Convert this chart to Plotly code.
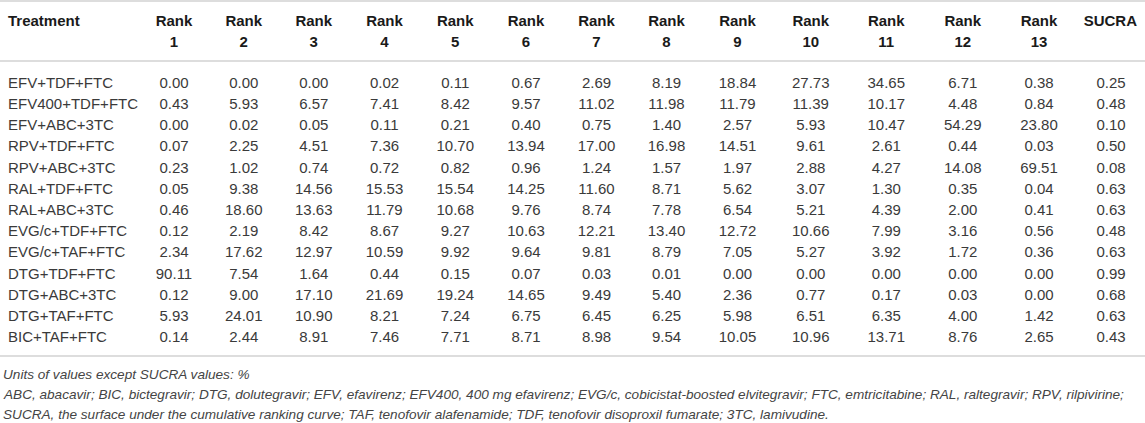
import plotly.graph_objects as go

treatments = ["EFV+TDF+FTC", "EFV400+TDF+FTC", "EFV+ABC+3TC", "RPV+TDF+FTC", "RPV+ABC+3TC",
              "RAL+TDF+FTC", "RAL+ABC+3TC", "EVG/c+TDF+FTC", "EVG/c+TAF+FTC", "DTG+TDF+FTC",
              "DTG+ABC+3TC", "DTG+TAF+FTC", "BIC+TAF+FTC"]

# probability (%) of each rank, one list per rank
rank1 = [0.00, 0.43, 0.00, 0.07, 0.23, 0.05, 0.46, 0.12, 2.34, 90.11, 0.12, 5.93, 0.14]
rank2 = [0.00, 5.93, 0.02, 2.25, 1.02, 9.38, 18.60, 2.19, 17.62, 7.54, 9.00, 24.01, 2.44]
rank3 = [0.00, 6.57, 0.05, 4.51, 0.74, 14.56, 13.63, 8.42, 12.97, 1.64, 17.10, 10.90, 8.91]
rank4 = [0.02, 7.41, 0.11, 7.36, 0.72, 15.53, 11.79, 8.67, 10.59, 0.44, 21.69, 8.21, 7.46]
rank5 = [0.11, 8.42, 0.21, 10.70, 0.82, 15.54, 10.68, 9.27, 9.92, 0.15, 19.24, 7.24, 7.71]
rank6 = [0.67, 9.57, 0.40, 13.94, 0.96, 14.25, 9.76, 10.63, 9.64, 0.07, 14.65, 6.75, 8.71]
rank7 = [2.69, 11.02, 0.75, 17.00, 1.24, 11.60, 8.74, 12.21, 9.81, 0.03, 9.49, 6.45, 8.98]
rank8 = [8.19, 11.98, 1.40, 16.98, 1.57, 8.71, 7.78, 13.40, 8.79, 0.01, 5.40, 6.25, 9.54]
rank9 = [18.84, 11.79, 2.57, 14.51, 1.97, 5.62, 6.54, 12.72, 7.05, 0.00, 2.36, 5.98, 10.05]
rank10 = [27.73, 11.39, 5.93, 9.61, 2.88, 3.07, 5.21, 10.66, 5.27, 0.00, 0.77, 6.51, 10.96]
rank11 = [34.65, 10.17, 10.47, 2.61, 4.27, 1.30, 4.39, 7.99, 3.92, 0.00, 0.17, 6.35, 13.71]
rank12 = [6.71, 4.48, 54.29, 0.44, 14.08, 0.35, 2.00, 3.16, 1.72, 0.00, 0.03, 4.00, 8.76]
rank13 = [0.38, 0.84, 23.80, 0.03, 69.51, 0.04, 0.41, 0.56, 0.36, 0.00, 0.00, 1.42, 2.65]
sucra = [0.25, 0.48, 0.10, 0.50, 0.08, 0.63, 0.63, 0.48, 0.63, 0.99, 0.68, 0.63, 0.43]

rank_cols = [rank1, rank2, rank3, rank4, rank5, rank6, rank7, rank8, rank9, rank10,
             rank11, rank12, rank13]

footnotes = [
    "Units of values except SUCRA values: %",
    "ABC, abacavir; BIC, bictegravir; DTG, dolutegravir; EFV, efavirenz; EFV400, 400 mg efavirenz; "
    "EVG/c, cobicistat-boosted elvitegravir; FTC, emtricitabine; RAL, raltegravir; RPV, rilpivirine;",
    "SUCRA, the surface under the cumulative ranking curve; TAF, tenofovir alafenamide; "
    "TDF, tenofovir disoproxil fumarate; 3TC, lamivudine.",
]

W, H = 1145, 423
FONT = "Liberation Sans, Arial, sans-serif"

# header as 3 rows: label, rank number, blank spacer above the rule
# (no <b> tags: styled text makes plotly grow the row height)
header = [["Treatment", "", ""]]
header += [["Rank", "%d" % (i + 1), ""] for i in range(len(rank_cols))]
header += [["SUCRA", "", ""]]
values = [treatments] + [["%.2f" % v for v in col] for col in rank_cols] + [["%.2f" % v for v in sucra]]
widths = [139, 70, 69.5, 70.5, 71, 70.5, 71, 70, 70, 72, 74.5, 76.5, 76.5, 76, 68]

fig = go.Figure()
fig.add_trace(go.Table(
    domain=dict(x=[0, 1], y=[0, 1 - 7 / H]),
    columnwidth=widths,
    header=dict(values=header, align=["left"] + ["center"] * 13 + ["right"],
                height=20.5, fill_color="white", line=dict(color="white", width=0),
                font=dict(family=FONT, size=15, color="#1a1a1a", weight="bold")),
    cells=dict(values=values, align=["left"] + ["center"] * 14,
               height=21.2, fill_color="white", line=dict(color="white", width=0),
               font=dict(family=FONT, size=15, color="#3a3a3a")),
))

# horizontal rules
for ypx in [1, 61, 356]:
    fig.add_shape(type="line", xref="paper", yref="paper", x0=0, x1=1,
                  y0=1 - ypx / H, y1=1 - ypx / H, line=dict(color="#dddddd", width=2))

for i, txt in enumerate(footnotes):
    fig.add_annotation(text=txt, xref="paper", yref="paper",
                       x=0.001, y=1 - (374 + 20 * i) / H, xanchor="left", yanchor="middle",
                       showarrow=False,
                       font=dict(family=FONT, size=13.6, color="#444444", style="italic"))

fig.update_layout(width=W, height=H, margin=dict(l=0, r=0, t=0, b=0),
                  paper_bgcolor="white", plot_bgcolor="white")
# page body has an 8px default margin; drop it so the figure fills the window
fig.write_html("out.html", config={"displayModeBar": False},
               post_script="document.body.style.margin='0';")
